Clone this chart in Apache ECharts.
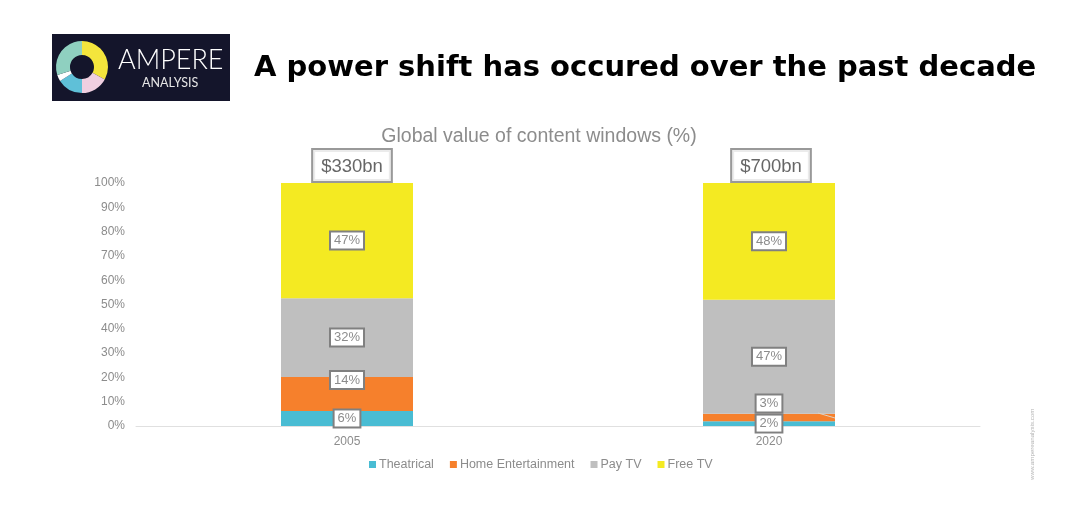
<!DOCTYPE html>
<html>
<head>
<meta charset="utf-8">
<style>
  html, body { margin: 0; padding: 0; background: #fff; }
  #container { width: 1078px; height: 516px; }
</style>
<script src="https://cdn.jsdelivr.net/npm/echarts@6/dist/echarts.min.js"></script>
</head>
<body>
<div id="container"></div>
<script>
const years = ['2005', '2020'];
const theatrical = [6.2, 2];
const homeEntertainment = [14, 3];
const payTv = [32.4, 47];
const freeTv = [47.4, 48];
const totals = ['$330bn', '$700bn'];
const top100 = [100, 100];

const logoSlices = [33, 17, 16, 4, 30];
const logoColors = ['#f4e53c', '#f0cfe0', '#5fc0d8', '#ffffff', '#8fd0c0'];

const font = '"Liberation Sans", Arial, sans-serif';
const grey = '#8c8c8c';

const segmentLabel = {
    show: true,
    position: 'inside',
    formatter: p => Math.round(p.value) + '%',
    color: grey,
    fontFamily: font,
    fontSize: 13,
    backgroundColor: '#fff',
    borderColor: '#808080',
    borderWidth: 2,
    padding: [2, 3, 1, 3]
};

function barSeries(name, data, color, extra) {
    return {
        name: name,
        type: 'bar',
        stack: 'windows',
        barWidth: 132,
        data: data,
        itemStyle: { color: color },
        label: segmentLabel,
        ...extra
    };
}

const myChart = echarts.init(document.getElementById('container'));

myChart.setOption({
    backgroundColor: '#fff',
    animation: false,
    title: [
        {
            text: 'A power shift has occured over the past decade',
            left: 249,
            top: 49,
            textStyle: { color: '#000', fontFamily: '"DejaVu Sans", sans-serif', fontWeight: 'bold', fontSize: 29 }
        },
        {
            text: 'Global value of content windows (%)',
            left: 534,
            top: 122,
            textAlign: 'center',
            textStyle: { color: grey, fontFamily: font, fontWeight: 'normal', fontSize: 19.5 }
        }
    ],
    legend: {
        left: 369,
        top: 458,
        padding: 0,
        itemWidth: 7,
        itemHeight: 7,
        itemGap: 16,
        icon: 'rect',
        selectedMode: false,
        textStyle: { color: grey, fontFamily: font, fontSize: 12.5, padding: [0, 0, 0, -2] },
        data: ['Theatrical', 'Home Entertainment', 'Pay TV', 'Free TV']
    },
    grid: { left: 136, right: 98, top: 183, bottom: 90 },
    xAxis: {
        type: 'category',
        data: years,
        axisTick: { show: false },
        axisLine: { lineStyle: { color: '#e0e0e0' } },
        axisLabel: { color: grey, fontFamily: font, fontSize: 12, margin: 10 }
    },
    yAxis: {
        type: 'value',
        min: 0,
        max: 100,
        interval: 10,
        splitLine: { show: false },
        axisLine: { show: false },
        axisTick: { show: false },
        axisLabel: { color: grey, fontFamily: font, fontSize: 12, margin: 11, padding: [2, 0, 0, 0], formatter: '{value}%' }
    },
    series: [
        barSeries('Theatrical', theatrical, '#49bcd3'),
        barSeries('Home Entertainment', homeEntertainment, '#f6802c', {
            label: { ...segmentLabel, offset: [0, -14] }
        }),
        barSeries('Pay TV', payTv, '#bfbfbf'),
        barSeries('Free TV', freeTv, '#f4ea22'),
        {
            name: 'Total',
            type: 'scatter',
            // the two boxes sit slightly right of their bars in the original
            data: top100.map((v, i) => ({ value: v, label: { offset: [i === 0 ? 5 : 2, 0] } })),
            symbolSize: 0,
            clip: false,
            z: 5,
            label: {
                show: true,
                position: 'top',
                distance: 2,
                formatter: p => totals[p.dataIndex],
                color: '#404040',
                fontFamily: font,
                fontSize: 18.5,
                backgroundColor: '#fff',
                borderColor: '#808080',
                borderWidth: 2,
                padding: [7, 8, 5, 8]
            }
        },
        {
            name: 'Logo',
            type: 'pie',
            center: [82, 67],
            radius: [12, 26],
            startAngle: 90,
            silent: true,
            z: 3,
            label: { show: false },
            labelLine: { show: false },
            data: logoSlices.map((v, i) => ({ value: v, itemStyle: { color: logoColors[i] } }))
        }
    ],
    graphic: [
        { type: 'rect', z: 0, shape: { x: 52, y: 34, width: 178, height: 67 }, style: { fill: '#14152b' } },
        {
            type: 'text', z: 4, x: 118, y: 47,
            style: { text: 'AMPERE', fill: '#fff', font: '300 27px "Lato", sans-serif' }
        },
        {
            type: 'text', z: 4, x: 142, y: 76,
            style: { text: 'ANALYSIS', fill: '#e6e6e6', font: '12.5px "Lato", sans-serif' }
        },
        {
            type: 'text', z: 4, x: 1029, y: 480, rotation: Math.PI / 2,
            style: { text: 'www.ampereanalysis.com', fill: '#b3b3b3', font: '6.2px "Liberation Sans", sans-serif' }
        },
        {
            type: 'line', z: 4,
            shape: { x1: 818, y1: 413, x2: 835, y2: 418 },
            style: { stroke: '#dcd3c6', lineWidth: 1 }
        }
    ]
});
</script>
</body>
</html>
